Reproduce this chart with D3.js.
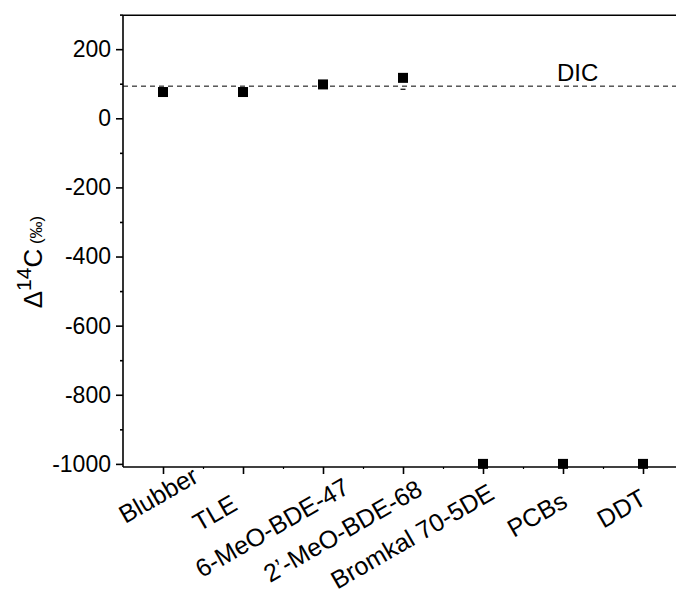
<!DOCTYPE html>
<html><head><meta charset="utf-8">
<script src="https://cdn.jsdelivr.net/npm/d3@7/dist/d3.min.js"></script>
<style>
html,body{margin:0;padding:0;background:#fff;}
svg{display:block;font-family:"Liberation Sans",Arial,sans-serif;}
</style></head>
<body>
<svg id="chart" width="676" height="593"></svg>
<script>
const categories = ["Blubber","TLE","6-MeO-BDE-47","2\u2019-MeO-BDE-68","Bromkal 70-5DE","PCBs","DDT"];
const values = [76, 76, 98, 117, -1000, -1000, -1000];
const lowerCap = [null, null, null, 84, null, null, null];
const dicValue = 93;
const yMajorTicks = [-1000,-800,-600,-400,-200,0,200];
const yMinorTicks = [-900,-700,-500,-300,-100,100,300];
// label placement offsets (end of rotated label relative to tick)
const labelOffsets = [[37,14],[-4,42],[28,25],[21,27],[13,31],[6,39],[5,36]];

const svg = d3.select("#chart");
const x = d3.scaleLinear().domain([-0.5, 7.5]).range([123, 763]);
const y = d3.scaleLinear().domain([-1009, 298]).range([467, 15.3]);

const g = svg.append("g");
g.append("line").attr("x1",123).attr("x2",123).attr("y1",y(298)).attr("y2",y(-1009))
  .attr("stroke","#000").attr("stroke-width",1.6);
g.append("line").attr("x1",123).attr("x2",676).attr("y1",y(298)).attr("y2",y(298))
  .attr("stroke","#000").attr("stroke-width",1.6);
g.append("line").attr("x1",123).attr("x2",676).attr("y1",y(-1009)).attr("y2",y(-1009))
  .attr("stroke","#000").attr("stroke-width",1.6);

// y axis
const yAxis = d3.axisLeft(y).tickValues(yMajorTicks).tickSize(7).tickPadding(5).tickFormat(d => String(d));
const ya = g.append("g").attr("transform","translate(123,0)").call(yAxis);
ya.select(".domain").remove();
ya.selectAll(".tick line").attr("stroke-width",1.6);
ya.selectAll(".tick text").attr("font-size",23).attr("font-family","Liberation Sans, Arial, sans-serif").attr("fill","#000");
const yMin = d3.axisLeft(y).tickValues(yMinorTicks).tickSize(3).tickFormat("");
const ym = g.append("g").attr("transform","translate(123,0)").call(yMin);
ym.select(".domain").remove();
ym.selectAll(".tick line").attr("stroke-width",1.6);

// x axis
const idx = d3.range(categories.length);
const xAxis = d3.axisBottom(x).tickValues(idx).tickSize(7).tickFormat("");
const xa = g.append("g").attr("transform",`translate(0,${y(-1009)})`).call(xAxis);
xa.select(".domain").remove();
xa.selectAll(".tick line").attr("stroke-width",1.6);
const xMin = d3.axisBottom(x).tickValues(d3.range(0.5, 7, 1)).tickSize(2).tickFormat("");
const xm = g.append("g").attr("transform",`translate(0,${y(-1009)})`).call(xMin);
xm.select(".domain").remove();
xm.selectAll(".tick line").attr("stroke-width",1.2);

// x labels
g.selectAll("text.xl").data(categories).join("text").attr("class","xl")
  .attr("transform",(d,i)=>`translate(${x(i)+labelOffsets[i][0]},${y(-1009)+labelOffsets[i][1]}) rotate(-30)`)
  .attr("text-anchor","end").attr("font-size",25).attr("fill","#000").text(d=>d);

// DIC line
g.append("line").attr("x1",123).attr("x2",676).attr("y1",y(dicValue)).attr("y2",y(dicValue))
  .attr("stroke","#000").attr("stroke-width",1).attr("stroke-dasharray","5,4");
g.append("text").attr("x",557).attr("y",y(dicValue)-5.5).attr("font-size",24).attr("fill","#000").text("DIC");

// caps
g.selectAll("line.cap").data(idx.filter(i=>lowerCap[i]!==null)).join("line").attr("class","cap")
  .attr("x1",i=>x(i)-2.5).attr("x2",i=>x(i)+2.5).attr("y1",i=>y(lowerCap[i])).attr("y2",i=>y(lowerCap[i]))
  .attr("stroke","#000").attr("stroke-width",1.2);

// markers
const s = 10;
g.selectAll("rect.pt").data(values).join("rect").attr("class","pt")
  .attr("x",(d,i)=>x(i)-s/2).attr("y",d=>y(d)-s/2).attr("width",s).attr("height",s).attr("fill","#000");

// y title
const t = svg.append("text").attr("transform","translate(42,262) rotate(-90)").attr("text-anchor","middle").attr("fill","#000");
t.append("tspan").attr("font-size",26).text("\u0394");
t.append("tspan").attr("font-size",21).attr("dy",-11).text("14");
t.append("tspan").attr("font-size",26).attr("dy",11).text("C");
t.append("tspan").attr("font-size",17).text(" (\u2030)");
</script>
</body></html>
